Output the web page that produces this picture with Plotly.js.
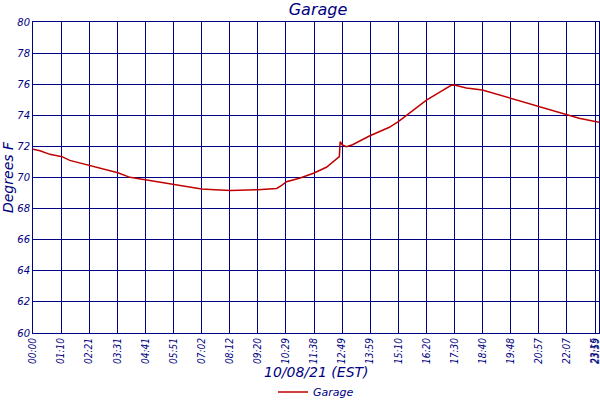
<!DOCTYPE html>
<html>
<head>
<meta charset="utf-8">
<script src="https://cdn.plot.ly/plotly-3.0.1.min.js"></script>
<style>
body { margin: 0; }
#chart { width: 600px; height: 400px; }
</style>
</head>
<body>
<div id="chart"></div>
<script>
// x = reading slot, one slot per tick label (about 70 min each)
var slots = [0, 0.25, 0.6, 1.03, 1.31, 1.67, 2.02, 2.49, 3.02, 3.45, 4.01, 4.51, 5.01, 5.58, 6.0, 6.64,
	7.03, 8.0, 8.67, 8.85, 9.02, 9.48, 9.98, 10.44, 10.83, 10.9, 10.93, 11.01, 11.15, 11.37, 11.97,
	12.5, 12.68, 13.0, 13.39, 14.0, 14.46, 14.88, 14.99, 15.42, 15.99, 16.59, 16.98, 17.55, 17.97,
	18.47, 18.97, 19.43, 20.14];
var temps = [71.81, 71.72, 71.49, 71.34, 71.1, 70.93, 70.76, 70.53, 70.31, 70.01, 69.84, 69.71, 69.56, 69.37, 69.26, 69.2,
	69.17, 69.22, 69.3, 69.5, 69.73, 69.95, 70.27, 70.66, 71.23, 71.34, 72.3, 72.09, 71.98, 72.11, 72.67,
	73.05, 73.23, 73.59, 74.13, 74.98, 75.48, 75.93, 75.95, 75.76, 75.63, 75.31, 75.09, 74.77, 74.55,
	74.3, 74.02, 73.81, 73.55];

var tickSlots = [0, 1, 2, 3, 4, 5, 6, 7, 8, 9, 10, 11, 12, 13, 14, 15, 16, 17, 18, 19, 20, 20.02];
var tickLabels = ["00:00", "01:10", "02:21", "03:31", "04:41", "05:51", "07:02", "08:12", "09:20", "10:29",
	"11:38", "12:49", "13:59", "15:10", "16:20", "17:30", "18:40", "19:48", "20:57", "22:07", "23:15", "23:59"];

var navy = "#000080";

var trace = {
	x: slots,
	y: temps,
	type: "scatter",
	mode: "lines",
	name: "Garage",
	line: {color: "#c00000", width: 1.5}
};

var layout = {
	width: 600,
	height: 400,
	margin: {l: 33, r: 1, t: 22, b: 67},
	paper_bgcolor: "#ffffff",
	plot_bgcolor: "#ffffff",
	font: {family: "DejaVu Sans", color: navy, style: "italic"},
	title: {
		text: "Garage",
		font: {family: "DejaVu Sans", size: 16, color: navy, style: "italic"},
		x: 0.53, xanchor: "center", y: 0.99, yanchor: "top"
	},
	xaxis: {
		range: [0, 20.14],
		tickvals: tickSlots,
		ticktext: tickLabels,
		tickangle: -90,
		tickfont: {family: "DejaVu Sans Condensed", size: 10, color: navy, style: "italic"},
		ticklabeloverflow: "allow",
		automargin: false,
		showgrid: true,
		gridcolor: navy,
		gridwidth: 1,
		showline: true,
		linecolor: navy,
		linewidth: 1,
		mirror: true,
		ticks: "",
		zeroline: false
	},
	yaxis: {
		range: [60, 80],
		dtick: 2,
		tickfont: {size: 10, color: navy, style: "italic"},
		automargin: false,
		showgrid: true,
		gridcolor: navy,
		gridwidth: 1,
		showline: true,
		linecolor: navy,
		linewidth: 1,
		mirror: true,
		ticks: "",
		zeroline: false,
		title: {text: "Degrees F", font: {size: 14, color: navy, style: "italic"}, standoff: 2}
	},
	// x axis title as annotation so it sits below the rotated time labels
	annotations: [{
		text: "10/08/21 (EST)",
		xref: "paper", yref: "paper",
		x: 0.5, y: -0.125,
		xanchor: "center", yanchor: "middle",
		showarrow: false,
		font: {size: 14, color: navy, style: "italic"}
	}],
	showlegend: true,
	legend: {
		orientation: "h",
		x: 0.5, xanchor: "center",
		yref: "container",
		y: 0.02, yanchor: "middle",
		font: {size: 11, color: navy, style: "italic"},
		itemwidth: 30
	}
};

Plotly.newPlot("chart", [trace], layout, {displayModeBar: false, staticPlot: true});
</script>
</body>
</html>
